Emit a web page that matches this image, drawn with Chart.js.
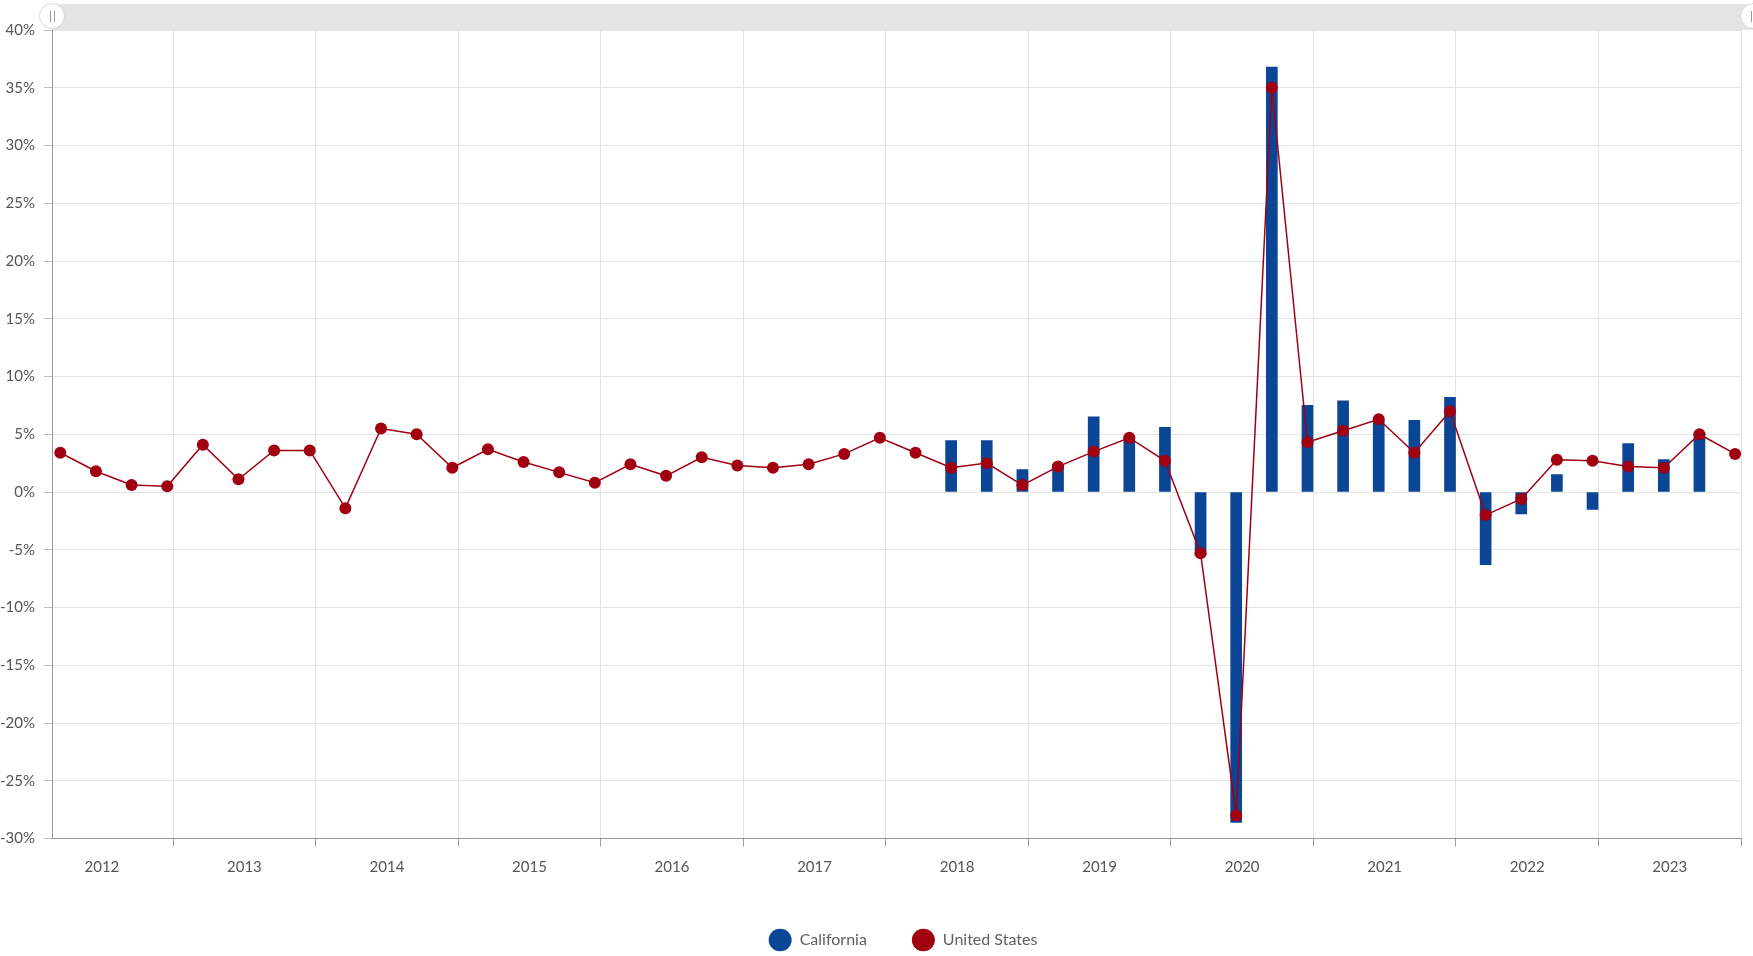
<!DOCTYPE html>
<html>
<head>
<meta charset="utf-8">
<script src="https://cdn.jsdelivr.net/npm/chart.js@4/dist/chart.umd.min.js"></script>
<style>
  html, body { margin: 0; padding: 0; background: #fff; }
  #wrap { position: relative; width: 1753px; height: 956px; overflow: hidden; }
  #c { position: absolute; left: 0; top: 0; }
  #scroll { position: absolute; left: 52px; top: 4px; width: 1701px; height: 26px; background: #e4e4e4; }
  .handle { position: absolute; top: 3px; width: 26px; height: 26px; border-radius: 50%;
            background: #fff; border: 1px solid #d6d6d6; box-sizing: border-box; }
  .handle::before, .handle::after { content: ""; position: absolute; top: 7px; width: 1px; height: 11px; background: #999; }
  .handle::before { left: 10px; } .handle::after { left: 14px; }
</style>
</head>
<body>
<div id="wrap">
  <canvas id="c" width="1753" height="960"></canvas>
  <div id="scroll"></div>
  <div class="handle" style="left:39px"></div>
  <div class="handle" style="left:1740px"></div>
</div>
<script>
// ---- data ----
const quarters = [
  '2012 Q1','2012 Q2','2012 Q3','2012 Q4',
  '2013 Q1','2013 Q2','2013 Q3','2013 Q4',
  '2014 Q1','2014 Q2','2014 Q3','2014 Q4',
  '2015 Q1','2015 Q2','2015 Q3','2015 Q4',
  '2016 Q1','2016 Q2','2016 Q3','2016 Q4',
  '2017 Q1','2017 Q2','2017 Q3','2017 Q4',
  '2018 Q1','2018 Q2','2018 Q3','2018 Q4',
  '2019 Q1','2019 Q2','2019 Q3','2019 Q4',
  '2020 Q1','2020 Q2','2020 Q3','2020 Q4',
  '2021 Q1','2021 Q2','2021 Q3','2021 Q4',
  '2022 Q1','2022 Q2','2022 Q3','2022 Q4',
  '2023 Q1','2023 Q2','2023 Q3','2023 Q4'
];
const unitedStates = [
  3.4, 1.8, 0.6, 0.5,
  4.1, 1.1, 3.6, 3.6,
  -1.4, 5.5, 5.0, 2.1,
  3.7, 2.6, 1.7, 0.8,
  2.4, 1.4, 3.0, 2.3,
  2.1, 2.4, 3.3, 4.7,
  3.4, 2.1, 2.5, 0.6,
  2.2, 3.5, 4.7, 2.7,
  -5.3, -28.0, 35.0, 4.3,
  5.3, 6.3, 3.4, 7.0,
  -2.0, -0.6, 2.8, 2.7,
  2.2, 2.1, 5.0, 3.3
];
const california = [
  null, null, null, null,
  null, null, null, null,
  null, null, null, null,
  null, null, null, null,
  null, null, null, null,
  null, null, null, null,
  null, 4.45, 4.45, 1.95,
  2.4, 6.5, 4.8, 5.6,
  -5.5, -28.6, 36.8, 7.5,
  7.9, 6.2, 6.2, 8.2,
  -6.3, -1.9, 1.5, -1.5,
  4.2, 2.8, 5.1, null
];
const yearLabels = ['2012','2013','2014','2015','2016','2017','2018','2019','2020','2021','2022','2023'];
const yTicks = [-30,-25,-20,-15,-10,-5,0,5,10,15,20,25,30,35,40];

// position of each quarter on a continuous year axis (middle of the quarter's last month)
function qx(label) {
  const [y, q] = label.split(' Q');
  return Number(y) + (3 * Number(q) - 0.5) / 12;
}
const usPoints = quarters.map((q, i) => ({ x: qx(q), y: unitedStates[i] }));
const caPoints = quarters.map((q, i) => ({ x: qx(q), y: california[i] }));

const BLUE = '#0a4596';
const RED = '#a0000f';
const FONT = 'Lato, "Open Sans", sans-serif';
const isInt = v => Math.abs(v - Math.round(v)) < 1e-6;

// nudges the (library-drawn) legend to the right, as in the reference
const legendShift = {
  id: 'legendShift',
  afterLayout(chart) {
    if (chart.legend) { chart.legend.left += 27; chart.legend.right += 27; }
  }
};

new Chart(document.getElementById('c'), {
  type: 'bar',
  plugins: [legendShift],
  data: {
    datasets: [
      {
        type: 'bar', label: 'California', data: caPoints,
        backgroundColor: BLUE, borderWidth: 0, barThickness: 11, order: 2
      },
      {
        type: 'line', label: 'United States', data: usPoints,
        borderColor: RED, backgroundColor: RED, borderWidth: 1.5,
        pointRadius: 6, pointBackgroundColor: RED, pointBorderWidth: 0,
        pointStyle: 'circle', tension: 0, order: 1
      }
    ]
  },
  options: {
    responsive: false,
    animation: false,
    layout: { padding: { top: 30, right: 1, left: 0, bottom: 2 } },
    plugins: {
      tooltip: { enabled: false },
      legend: {
        position: 'bottom',
        labels: {
          usePointStyle: true, pointStyle: 'circle', pointStyleWidth: 23,
          boxWidth: 23, boxHeight: 20, padding: 45,
          color: '#5f5f5f', font: { family: FONT, size: 16 },
          sort: (a, b) => a.datasetIndex - b.datasetIndex,
          generateLabels: (chart) => chart.data.datasets.map((d, i) => ({
            text: d.label, fillStyle: i === 0 ? BLUE : RED, strokeStyle: i === 0 ? BLUE : RED,
            lineWidth: 0, pointStyle: 'circle', datasetIndex: i, hidden: false, fontColor: '#5f5f5f'
          }))
        }
      }
    },
    scales: {
      x: {
        type: 'linear', min: 2012.15, max: 2024, offset: false,
        afterBuildTicks: (scale) => {
          const t = [];
          yearLabels.forEach(y => { t.push({ value: Number(y) + 0.5 }); t.push({ value: Number(y) + 1 }); });
          scale.ticks = t;
        },
        afterFit: (scale) => { scale.height = 48.5; },
        ticks: {
          autoSkip: false, maxRotation: 0, padding: 12,
          color: '#555', font: { family: FONT, size: 15 },
          callback: (v) => isInt(v) ? '' : yearLabels[Math.floor(v) - 2012]
        },
        grid: {
          offset: false,
          color: (ctx) => (ctx.tick && isInt(ctx.tick.value)) ? '#e2e2e2' : 'rgba(0,0,0,0)',
          tickColor: (ctx) => (ctx.tick && isInt(ctx.tick.value)) ? '#999' : 'rgba(0,0,0,0)',
          tickLength: 8, lineWidth: 1
        },
        border: { color: '#999', width: 1 }
      },
      y: {
        min: -30, max: 40,
        afterBuildTicks: (scale) => { scale.ticks = yTicks.map(v => ({ value: v })); },
        afterFit: (scale) => { scale.width = 52; },
        ticks: {
          padding: 9, color: '#555', font: { family: FONT, size: 15 },
          callback: (v) => v + '%'
        },
        grid: { color: '#e4e4e4', tickColor: '#bbb', tickLength: 8, lineWidth: 1 },
        border: { color: '#999', width: 1 }
      }
    }
  }
});
</script>
</body>
</html>
